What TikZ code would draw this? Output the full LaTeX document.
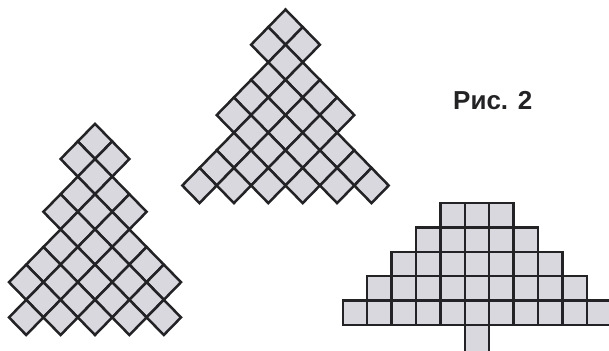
\documentclass[tikz,border=0pt]{standalone}
\usepackage{fontspec}
\setmainfont{Liberation Sans}
\definecolor{cellfill}{RGB}{216,216,222}
\definecolor{ink}{RGB}{35,35,38}
\tikzset{cell/.style={fill=cellfill,draw=ink,line width=2.5pt,line join=miter}}
\newcommand\mydia[4]{%
  \pgfmathsetmacro\cx{#1+(#3-#4)*17.2}%
  \pgfmathsetmacro\cy{#2+(#3+#4+1)*17.6}%
  \draw[cell] (\cx,\cy-17.6) -- (\cx+17.2,\cy) -- (\cx,\cy+17.6) -- (\cx-17.2,\cy) -- cycle;}
\begin{document}
\begin{tikzpicture}[x=1pt,y=-1pt]
\useasboundingbox (0,0) rectangle (609,350);
\clip (0,0) rectangle (609,350);
\fill[white] (0,0) rectangle (609,350);
% middle diamond tree
\foreach \a/\lo/\hi in {0/0/1,1/0/4,2/1/7,3/1/6,4/1/5,5/2/4,6/2/3,7/2/2}{
  \foreach \b in {\lo,...,\hi}{\mydia{285.5}{9.5}{\a}{\b}}
}
% left diamond tree
\foreach \a/\lo/\hi in {0/0/1,1/0/3,2/1/6,3/1/7,4/2/6,5/2/5,6/2/4,7/3/3}{
  \foreach \b in {\lo,...,\hi}{\mydia{95}{123.8}{\a}{\b}}
}
% right square tree
\foreach \r in {0,...,4}{
  \pgfmathtruncatemacro\nn{2+2*\r}
  \foreach \i in {0,...,\nn}{
    \draw[cell] ({477-(1.5+\r-\i)*24.4},{203+\r*24.4}) rectangle ++(24.4,24.4);
  }
}
\draw[cell] (464.8,325) rectangle (489.2,353);
\node[anchor=base west, inner sep=0, font=\fontsize{26}{26}\selectfont\bfseries, text=ink] (cap) at (453,110) {Рис. 2};
\end{tikzpicture}
\end{document}
